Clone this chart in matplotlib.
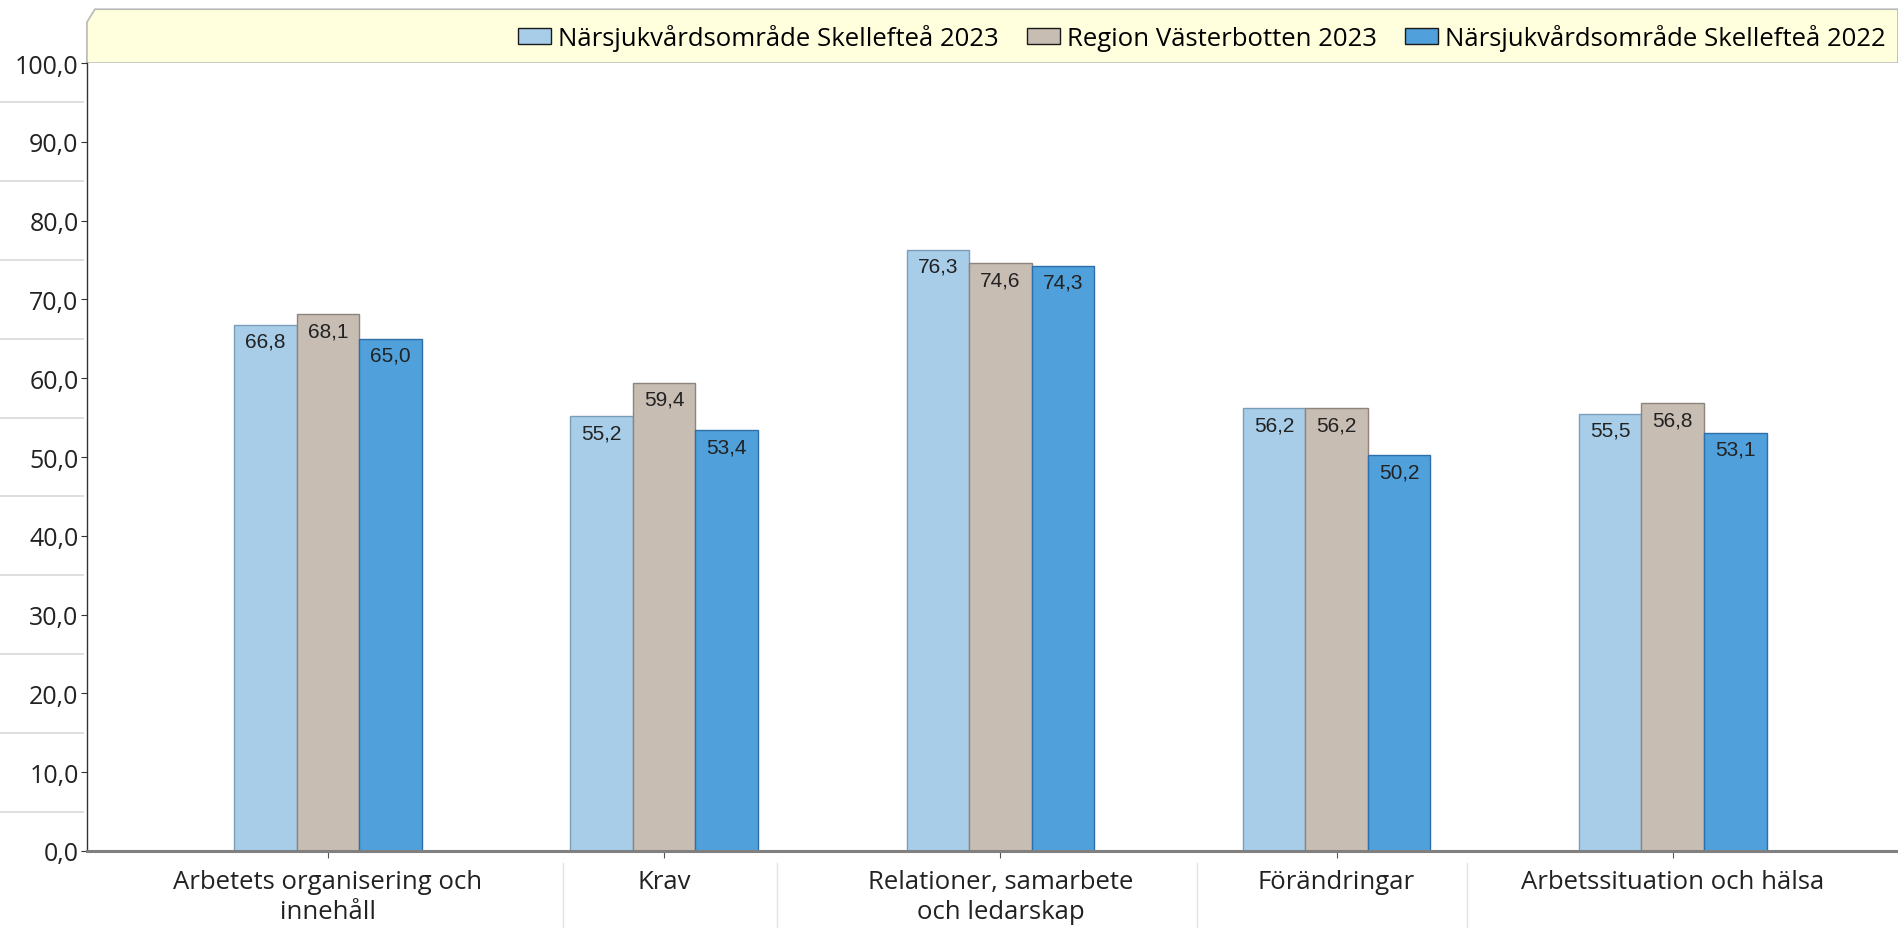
import matplotlib.pyplot as plt
import matplotlib.transforms as mtransforms
from matplotlib.patches import Polygon
import numpy as np

plt.rcParams['font.family'] = ['Open Sans', 'DejaVu Sans']

categories = ['Arbetets organisering och\ninnehåll', 'Krav', 'Relationer, samarbete\noch ledarskap',
              'Förändringar', 'Arbetssituation och hälsa']
series_names = ['Närsjukvårdsområde Skellefteå 2023', 'Region Västerbotten 2023',
                'Närsjukvårdsområde Skellefteå 2022']
skelleftea_2023 = [66.8, 55.2, 76.3, 56.2, 55.5]
vasterbotten_2023 = [68.1, 59.4, 74.6, 56.2, 56.8]
skelleftea_2022 = [65.0, 53.4, 74.3, 50.2, 53.1]
yticks = np.arange(0, 101, 10)
separators = [0.70, 1.335, 2.584, 3.387]

colors = ['#A7CDE8', '#C8BDB3', '#4FA0DB']
edges = ['#7C9DB8', '#8E847B', '#2F6FA8']

fig = plt.figure(figsize=(18.98, 9.29), dpi=100)
ax = fig.add_axes([0.0458, 0.0829, 0.9542, 0.8481])

# legend band with cut corner
band = Polygon([(0.0458, 0.931), (0.0458, 0.975), (0.050, 0.989), (1.0, 0.989), (1.0, 0.931)],
               closed=True, transform=fig.transFigure, facecolor='#FFFFDD', edgecolor='#B8B8B8',
               lw=1.2, zorder=-1)
fig.patches.append(band)

x = np.arange(len(categories))
w = 0.186
for i, (vals, c, e) in enumerate(zip([skelleftea_2023, vasterbotten_2023, skelleftea_2022], colors, edges)):
    bars = ax.bar(x + (i - 1) * w, vals, w, color=c, edgecolor=e, lw=1, label=series_names[i], zorder=2)
    for b, v in zip(bars, vals):
        ax.annotate(f'{v:.1f}'.replace('.', ','), (b.get_x() + b.get_width() / 2, v),
                    xytext=(0, -5), textcoords='offset points', ha='center', va='top',
                    fontsize=15, family='Liberation Sans', color='#222222')

ax.set_xlim(-0.717, 4.67)
ax.set_ylim(0, 100)
ax.set_yticks(yticks)
ax.set_yticklabels([f'{t:.1f}'.replace('.', ',') for t in yticks], fontsize=18, color='#222222')
ax.set_xticks(x)
ax.set_xticklabels(categories, fontsize=18.5, color='#222222', linespacing=1.28)
ax.tick_params(axis='y', length=4, color='#333333', pad=2)
ax.tick_params(axis='x', length=5, color='#555555', pad=8)

for s in ['top', 'right']:
    ax.spines[s].set_visible(False)
ax.spines['left'].set_color('#333333')
ax.spines['left'].set_linewidth(1)
ax.spines['bottom'].set_color('#808080')
ax.spines['bottom'].set_linewidth(2.2)

# faint lines between y labels
trans = mtransforms.blended_transform_factory(ax.transAxes, ax.transData)
for y in np.arange(5, 100, 10):
    ax.plot([-0.048, -0.002], [y, y], transform=trans, color='#D8D8D8', lw=1.2, clip_on=False)

# faint separators between x labels
trans2 = mtransforms.blended_transform_factory(ax.transData, ax.transAxes)
for s in separators:
    ax.plot([s, s], [-0.015, -0.1], transform=trans2, color='#E2E2E2', lw=1, clip_on=False)

leg = ax.legend(loc='center right', bbox_to_anchor=(1.0, 1.032), ncol=3, frameon=False, fontsize=18.5,
                handlelength=1.3, handleheight=0.6, handletextpad=0.25, columnspacing=1.1,
                borderaxespad=0.1)
for h in leg.legend_handles:
    h.set_edgecolor('#1A1A1A')

plt.savefig('out.png', dpi=100)
